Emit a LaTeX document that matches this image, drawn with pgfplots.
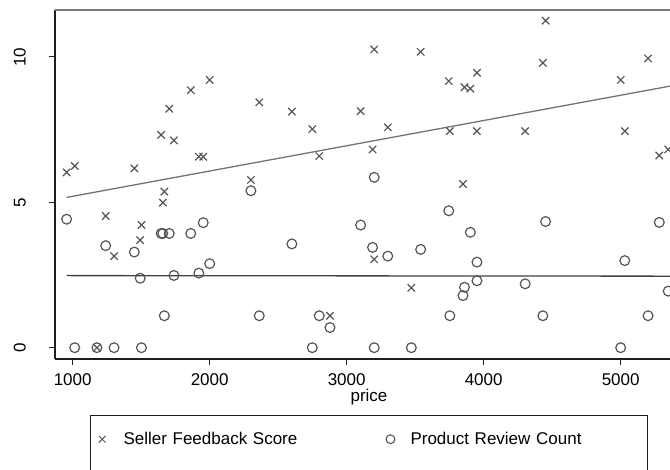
\documentclass[border=0pt]{standalone}
\usepackage{pgfplots}
\pgfplotsset{compat=1.18}
\usepackage{pgfplotstable}
\usepackage{fontspec}
\setmainfont{Liberation Sans}

\definecolor{markgray}{RGB}{85,85,85}
\definecolor{fitlight}{RGB}{115,115,115}
\definecolor{fitdark}{RGB}{65,65,65}
\definecolor{axisdark}{RGB}{30,30,30}
\definecolor{framegray}{RGB}{120,120,120}

% price, seller feedback score, product review count
\pgfplotstableread{
price seller review
956  6.03  4.42
1015 6.25  0
1177 0     0
1241 4.53  3.51
1302 3.15  0
1450 6.17  3.29
1493 3.70  2.39
1502 4.22  0
1646 7.32  3.93
1658 4.99  3.93
1669 5.37  1.099
1705 8.22  3.93
1739 7.13  2.485
1862 8.86  3.93
1921 6.57  2.565
1953 6.57  4.30
2000 9.21  2.89
2301 5.77  5.40
2362 8.44  1.099
2600 8.12  3.57
2749 7.52  0
2800 6.59  1.099
2878 1.10  0.693
3102 8.14  4.22
3189 6.82  3.45
3201 10.26 5.86
3201 3.04  0
3300 7.58  3.15
3472 2.06  0
3540 10.18 3.38
3745 9.17  4.71
3753 7.45  1.099
3849 5.63  1.792
3860 8.96  2.079
3903 8.91  3.97
3951 9.46  2.944
3951 7.45  2.303
4303 7.45  2.197
4432 9.80  1.099
4452 11.25 4.34
5000 9.21  0
5030 7.45  2.996
5200 9.95  1.099
5282 6.61  4.31
5347 6.82  1.946
}\listings

\newcommand{\chartfont}{\fontsize{17}{20}\selectfont}

\begin{document}
\begin{tikzpicture}[x=1pt,y=1pt]
\begin{axis}[
  at={(55pt,111pt)}, anchor=south west,
  scale only axis, width=628pt, height=349pt,
  xmin=871, xmax=5455, ymin=-0.389, ymax=11.617,
  axis x line*=bottom, axis y line*=left,
  axis line style={draw=axisdark, line width=1.3pt, -},
  xtick={1000,2000,3000,4000,5000},
  xticklabels={1000,2000,3000,4000,5000},
  ytick={0,5,10},
  yticklabels={0,5,10},
  tick align=outside, major tick length=6pt,
  tick style={draw=axisdark, line width=1pt},
  /pgf/number format/assume math mode=true,
  xticklabel style={font=\chartfont, inner sep=0pt, anchor=north},
  xticklabel shift=8.5pt,
  yticklabel style={font=\chartfont, inner sep=0pt, rotate=90, anchor=south},
  yticklabel shift=22.9pt,
  xlabel={price},
  xlabel style={font=\chartfont, at={(axis description cs:0.5,0)}, anchor=base, inner sep=0pt, yshift=-43pt},
  legend columns=2,
  legend cell align=left,
  legend image code/.code={\path[draw=none,fill=none] (-5pt,-5pt) rectangle (5pt,5pt); \draw[#1] plot coordinates {(0pt,0pt)};},
  legend style={
    at={(axis description cs:0.0551,-0.1605)}, anchor=north west,
    draw=axisdark, line width=1pt,
    inner xsep=7.1pt, inner ysep=16.8pt,
    font=\chartfont,
    nodes={inner sep=0pt, text width=230pt, align=left},
    /tikz/column 1/.style={column sep=16.3pt},
    /tikz/column 2/.style={column sep=32pt},
    /tikz/column 3/.style={column sep=15pt},
  },
]
% seller feedback score
\addplot[only marks, mark=x, mark size=5.2pt, color=markgray,
  mark options={line width=1.2pt}, forget plot] table[x=price, y=seller] {\listings};
% product review count
\addplot[only marks, mark=o, mark size=4.9pt, color=markgray,
  mark options={line width=1.2pt}, forget plot] table[x=price, y=review] {\listings};
% linear fits
\addplot[fitlight, line width=1.3pt, forget plot] coordinates {(956,5.17) (5455,9.08)};
\addplot[fitdark, line width=1.3pt, forget plot] coordinates {(956,2.48) (5455,2.46)};
% plot region outline along the top
\draw[framegray, line width=1.5pt] (rel axis cs:0,1) -- (rel axis cs:1,1);

\addlegendimage{only marks, mark=x, mark size=4.7pt, color=markgray, mark options={line width=1pt}}
\addlegendentry{Seller Feedback Score}
\addlegendimage{only marks, mark=o, mark size=4.4pt, color=markgray, mark options={line width=1.1pt}}
\addlegendentry{Product Review Count}
\addlegendimage{empty legend}
\addlegendentry{\rule{0pt}{24pt}}
\addlegendimage{empty legend}
\addlegendentry{}
\end{axis}
\pgfresetboundingbox
\useasboundingbox (0,0) rectangle (670,470);
\end{tikzpicture}
\end{document}
